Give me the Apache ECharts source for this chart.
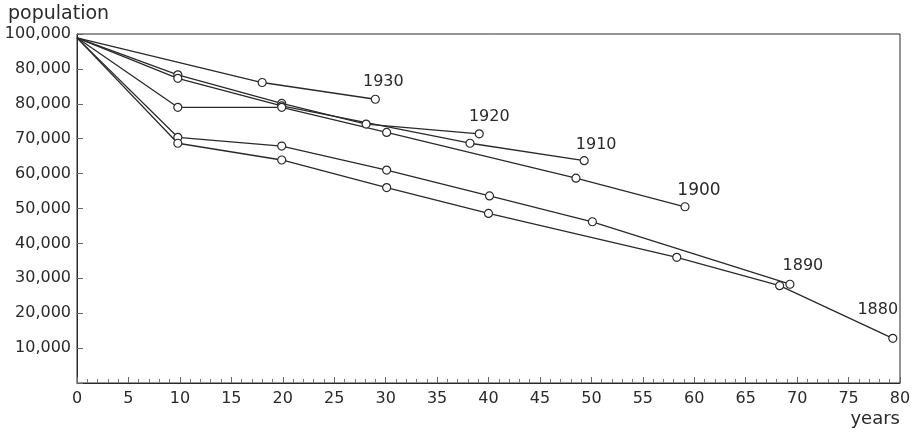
<!DOCTYPE html>
<html>
<head>
<meta charset="utf-8">
<script src="https://cdn.jsdelivr.net/npm/echarts@6/dist/echarts.min.js"></script>
<style>html,body{margin:0;padding:0;background:#fff}#c{width:917px;height:434px}</style>
</head>
<body>
<div id="c"></div>
<script>
// years after birth of cohort vs surviving population
const cohortNames = ['1930', '1920', '1910', '1900', '1890', '1880'];
const s1930 = [[0, 98900], [18.0, 86100], [29.0, 81300]];
const s1920 = [[0, 98900], [9.8, 88300], [19.9, 80100], [28.1, 74200], [39.1, 71400]];
const s1910 = [[0, 98900], [9.8, 87300], [19.9, 79400], [38.2, 68700], [49.3, 63700]];
const s1900 = [[0, 98900], [9.8, 79000], [19.9, 79000], [30.1, 71800], [48.5, 58700], [59.1, 50500]];
const s1890 = [[0, 98900], [9.8, 70400], [19.9, 67900], [30.1, 61000], [40.1, 53600], [50.1, 46200], [69.3, 28300]];
const s1880 = [[0, 98900], [9.8, 68700], [19.9, 63900], [30.1, 56000], [40.0, 48600], [58.3, 36000], [68.3, 27900], [79.3, 12800]];
const yTickLabels = ['', '10,000', '20,000', '30,000', '40,000', '50,000', '60,000', '70,000', '80,000', '80,000', '100,000'];
const xTickLabels = ['0','5','10','15','20','25','30','35','40','45','50','55','60','65','70','75','80'];

const seriesData = [s1930, s1920, s1910, s1900, s1890, s1880];
const labelOffsets = [[8, -17], [10, -17], [12, -16], [14, -16], [13, -18], [-15, -28]];
const labelSizes = [16, 16, 16, 17, 16, 16];

const font = 'DejaVu Sans';
const ink = '#2a2a2a';

const chart = echarts.init(document.getElementById('c'), null, {renderer: 'canvas'});
chart.setOption({
  animation: false,
  backgroundColor: '#fff',
  title: [
    {text: 'population', left: 3, top: 0, textStyle: {fontFamily: font, fontSize: 19, fontWeight: 'normal', color: ink}},
    {text: 'years', right: 12, bottom: 1, textStyle: {fontFamily: font, fontSize: 18, fontWeight: 'normal', color: ink}}
  ],
  grid: {left: 77, right: 17, top: 34, bottom: 51, show: true, borderColor: ink, borderWidth: 1, backgroundColor: 'transparent'},
  xAxis: {
    type: 'value', min: 0, max: 80, interval: 5,
    axisLine: {show: true, lineStyle: {color: ink, width: 1}},
    axisTick: {show: true, inside: true, length: 6, lineStyle: {color: '#666'}},
    minorTick: {show: true, splitNumber: 5, length: 4, lineStyle: {color: '#777'}},
    splitLine: {show: false},
    axisLabel: {fontFamily: font, fontSize: 16, color: ink, margin: 8,
      formatter: (v) => xTickLabels[Math.round(v / 5)] ?? ''}
  },
  yAxis: {
    type: 'value', min: 0, max: 100000, interval: 10000,
    axisLine: {show: true, lineStyle: {color: ink, width: 1}},
    axisTick: {show: true, inside: true, length: 6, lineStyle: {color: '#666'}},
    splitLine: {show: false},
    axisLabel: {fontFamily: font, fontSize: 16, color: ink, margin: 6,
      formatter: (v) => yTickLabels[Math.round(v / 10000)] ?? ''}
  },
  series: seriesData.map((d, i) => ({
    type: 'line',
    name: cohortNames[i],
    data: d.map((p, j) => j === 0 ? {value: p, symbol: 'none'} : p),
    symbol: 'circle',
    symbolSize: 8,
    showAllSymbol: true,
    lineStyle: {color: ink, width: 1.3},
    itemStyle: {color: '#fff', borderColor: ink, borderWidth: 1.2},
    label: {
      show: true,
      position: 'inside',
      offset: labelOffsets[i],
      fontFamily: font,
      fontSize: labelSizes[i],
      color: ink,
      formatter: (p) => p.dataIndex === d.length - 1 ? cohortNames[i] : ''
    },
    z: 3
  }))
});
</script>
</body>
</html>
